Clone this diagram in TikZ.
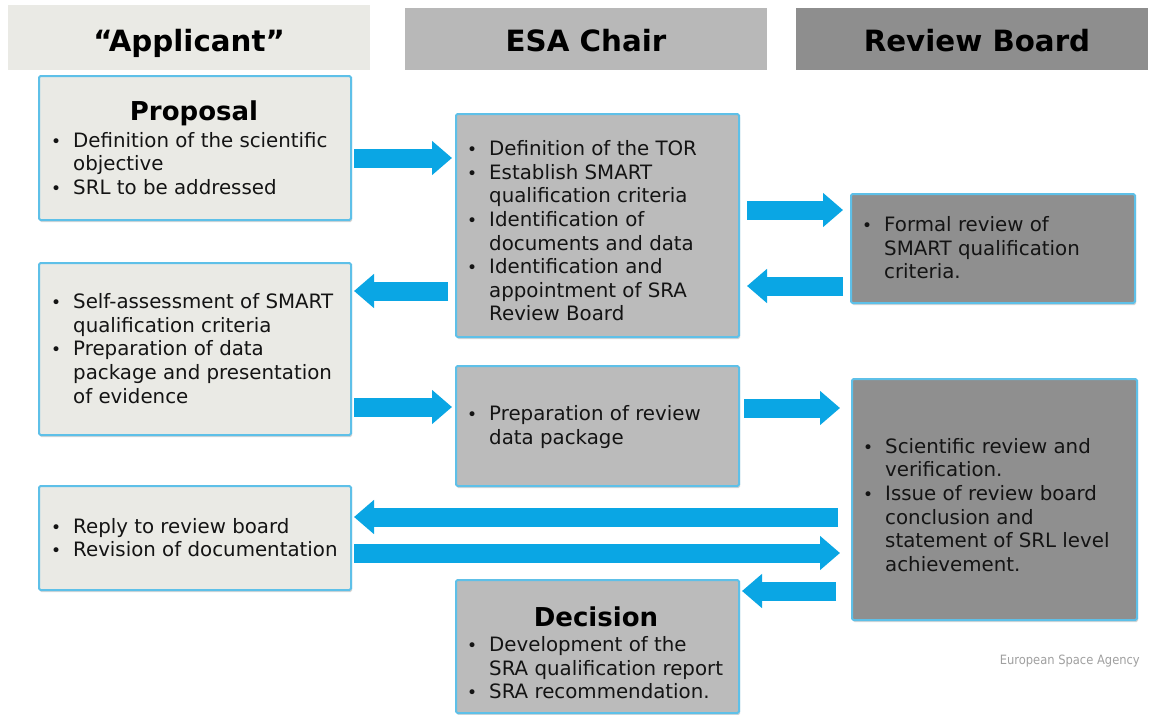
\documentclass[tikz,border=0pt]{standalone}
\usepackage{fontspec}
\setmainfont{DejaVu Sans}
\newfontfamily\condfont{DejaVu Sans Condensed}
\usetikzlibrary{arrows.meta,shadows}
\definecolor{appfill}{HTML}{EAEAE5}
\definecolor{esafill}{HTML}{BBBBBB}
\definecolor{revfill}{HTML}{8F8F8F}
\definecolor{hdrapp}{HTML}{EAEAE5}
\definecolor{hdresa}{HTML}{B8B8B8}
\definecolor{hdrrev}{HTML}{8E8E8E}
\definecolor{boxline}{HTML}{5EC0E8}
\definecolor{arrowblue}{HTML}{0AA6E4}
\definecolor{notegray}{HTML}{A0A0A0}
\newcommand{\bul}{\makebox[23pt][l]{\hspace{1pt}{\fontsize{17}{17}\selectfont\textbullet}}}
\newcommand{\ind}{\makebox[23pt]{}}
\begin{document}
\begin{tikzpicture}[x=1pt,y=-1pt,
  hdr/.style={anchor=north west,inner sep=0pt},
  hdrtxt/.style={anchor=base,inner sep=0pt,font=\fontsize{29.3}{31}\selectfont\bfseries},
  box/.style={anchor=north west,inner sep=0pt,draw=boxline,line width=2pt,rounded corners=1.5pt,
    drop shadow={shadow xshift=1pt,shadow yshift=-2pt,opacity=0.35,fill=black!45}},
  abox/.style={box,fill=appfill},
  ebox/.style={box,fill=esafill},
  rbox/.style={box,fill=revfill},
  txt/.style={anchor=west,inner sep=0pt,align=left,font=\fontsize{19.8}{23.6}\selectfont,text=black!92},
  ttl/.style={inner sep=0pt,font=\fontsize{26}{28}\selectfont\bfseries},
  flow/.style={draw=arrowblue,line width=19pt,-{Triangle[length=20pt,width=33pt]}},
]
\useasboundingbox[fill=white] (0,0) rectangle (1149,715);

% headers
\node[hdr,fill=hdrapp,minimum width=362pt,minimum height=65pt] (h1) at (8,5) {};
\node[hdrtxt] (h1t) at (189,51.5) {“Applicant”};
\node[hdr,fill=hdresa,minimum width=362pt,minimum height=62pt] (h2) at (405,8) {};
\node[hdrtxt] (h2t) at (586,51.5) {ESA Chair};
\node[hdr,fill=hdrrev,minimum width=352pt,minimum height=62pt] (h3) at (796,8) {};
\node[hdrtxt] (h3t) at (977,51.5) {Review Board};

% boxes
\node[abox,minimum width=312pt,minimum height=144pt] (A1) at (38,75) {};
\node[ebox,minimum width=283pt,minimum height=223pt] (E1) at (455,113) {};
\node[rbox,minimum width=284pt,minimum height=109pt] (R1) at (850,193) {};
\node[abox,minimum width=312pt,minimum height=172pt] (A2) at (38,262) {};
\node[ebox,minimum width=283pt,minimum height=120pt] (E2) at (455,365) {};
\node[rbox,minimum width=285pt,minimum height=241pt] (R2) at (851,378) {};
\node[abox,minimum width=312pt,minimum height=104pt] (A3) at (38,485) {};
\node[ebox,minimum width=283pt,minimum height=133pt] (E3) at (455,579) {};

% texts
\node[ttl] (A1t) at (194,113) {Proposal};
\node[txt] (A1x) at (50,163.5) {\bul Definition of the scientific\\ \ind objective\\ \bul SRL to be addressed};
\node[txt] (E1x) at (466,231) {\bul Definition of the TOR\\ \bul Establish SMART\\ \ind qualification criteria\\ \bul Identification of\\ \ind documents and data\\ \bul Identification and\\ \ind appointment of SRA\\ \ind Review Board};
\node[txt] (R1x) at (861,248) {\bul Formal review of\\ \ind SMART qualification\\ \ind criteria.};
\node[txt] (A2x) at (50,348.5) {\bul Self-assessment of SMART\\ \ind qualification criteria\\ \bul Preparation of data\\ \ind package and presentation\\ \ind of evidence};
\node[txt] (E2x) at (466,427) {\bul Preparation of review\\ \ind data package};
\node[txt] (R2x) at (862,505) {\bul Scientific review and\\ \ind verification.\\ \bul Issue of review board\\ \ind conclusion and\\ \ind statement of SRL level\\ \ind achievement.};
\node[txt] (A3x) at (50,537.5) {\bul Reply to review board\\ \bul Revision of documentation};
\node[ttl] (E3t) at (596,617) {Decision};
\node[txt] (E3x) at (466,668) {\bul Development of the\\ \ind SRA qualification report\\ \bul SRA recommendation.};

\node[anchor=east,inner sep=0pt,font=\condfont\fontsize{12.8}{14}\selectfont,text=notegray] (esa) at (1140,661) {European Space Agency};

% arrows
\draw[flow] ([xshift=2pt]A1.east |- 0,158) -- ([xshift=-3pt]E1.west |- 0,158);
\draw[flow] ([xshift=7pt]E1.east |- 0,210) -- ([xshift=-7pt]R1.west |- 0,210);
\draw[flow] ([xshift=-7pt]R1.west |- 0,286) -- ([xshift=7pt]E1.east |- 0,286);
\draw[flow] ([xshift=-7pt]E1.west |- 0,291) -- ([xshift=2pt]A2.east |- 0,291);
\draw[flow] ([xshift=2pt]A2.east |- 0,407) -- ([xshift=-3pt]E2.west |- 0,407);
\draw[flow] ([xshift=4pt]E2.east |- 0,408) -- ([xshift=-11pt]R2.west |- 0,408);
\draw[flow] ([xshift=-13pt]R2.west |- 0,517) -- ([xshift=2pt]A3.east |- 0,517);
\draw[flow] ([xshift=2pt]A3.east |- 0,553) -- ([xshift=-11pt]R2.west |- 0,553);
\draw[flow] ([xshift=-15pt]R2.west |- 0,591) -- ([xshift=2pt]E3.east |- 0,591);
\end{tikzpicture}
\end{document}
